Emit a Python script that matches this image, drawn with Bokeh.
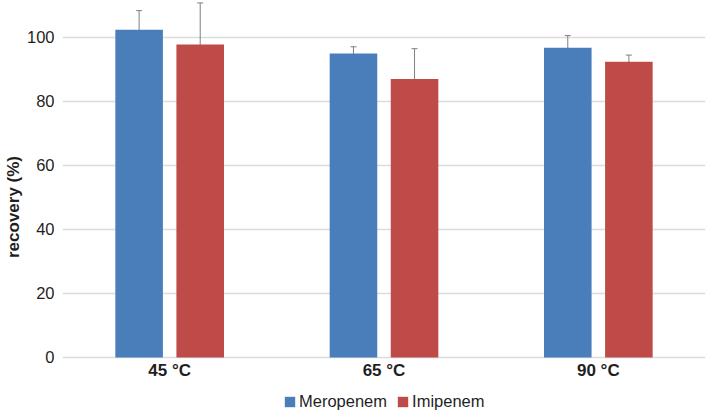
from bokeh.plotting import figure
from bokeh.models import (ColumnDataSource, Range1d, FixedTicker, Whisker, TeeHead,
                          Legend, LegendItem)
from bokeh.core.properties import value
from bokeh.transform import dodge
from bokeh.embed import file_html
from bokeh.resources import INLINE

categories = ["45 °C", "65 °C", "90 °C"]
series_names = ["Meropenem", "Imipenem"]
meropenem = [102.4, 95.0, 96.8]
meropenem_err = [6.0, 2.1, 3.8]
imipenem = [97.8, 87.0, 92.4]
imipenem_err = [13.0, 9.5, 2.1]
y_ticks = [0, 20, 40, 60, 80, 100]
y_label = "recovery (%)"

BLUE = "#4A7EBB"
RED = "#BE4B48"
FONT = "Liberation Sans"
TXT = "#1f1f1f"
GRID = "#dcdcdc"

xpos = [i + 0.5 for i in range(len(categories))]
src = ColumnDataSource(dict(
    x=xpos, cat=categories, base=[0] * len(categories),
    mero=meropenem, mero_lo=[v - e for v, e in zip(meropenem, meropenem_err)],
    mero_hi=[v + e for v, e in zip(meropenem, meropenem_err)],
    imi=imipenem, imi_lo=[v - e for v, e in zip(imipenem, imipenem_err)],
    imi_hi=[v + e for v, e in zip(imipenem, imipenem_err)],
))

p = figure(width=707, height=413, output_backend="svg", toolbar_location=None,
           x_range=Range1d(0, 3), y_range=Range1d(-17.5, 111.56),
           min_border_left=62, min_border_right=2, min_border_top=0, min_border_bottom=0)
p.outline_line_color = None
p.background_fill_color = "white"
p.border_fill_color = "white"

OFF = 0.1425
W = 0.222
r1 = p.vbar(x=dodge("x", -OFF), top="mero", width=W, source=src, fill_color=BLUE, line_color=None)
r2 = p.vbar(x=dodge("x", OFF), top="imi", width=W, source=src, fill_color=RED, line_color=None)

for off, lo, hi in [(-OFF, "mero_lo", "mero_hi"), (OFF, "imi_lo", "imi_hi")]:
    wk = Whisker(base=dodge("x", off), lower=lo, upper=hi, source=src,
                 line_color="#7f7f7f", line_width=1,
                 upper_head=TeeHead(size=6, line_color="#7f7f7f", line_width=1),
                 lower_head=TeeHead(size=6, line_color="#7f7f7f", line_width=1))
    p.add_layout(wk)

# category labels under the baseline
p.text(x="x", y="base", text="cat", source=src, text_align="center", text_baseline="top",
       y_offset=4, text_font=value(FONT), text_font_size="17px", text_font_style="bold",
       text_color=TXT)

# grid
p.xgrid.visible = False
p.ygrid.ticker = FixedTicker(ticks=y_ticks)
p.ygrid.grid_line_color = GRID
p.ygrid.grid_line_width = 1.5

# y axis
p.yaxis.ticker = FixedTicker(ticks=y_ticks)
p.yaxis.axis_line_color = None
p.yaxis.major_tick_line_color = None
p.yaxis.minor_tick_line_color = None
p.yaxis.major_tick_out = 0
p.yaxis.major_tick_in = 0
p.yaxis.major_label_standoff = 8
p.yaxis.major_label_text_font = FONT
p.yaxis.major_label_text_font_size = "16.5px"
p.yaxis.major_label_text_color = TXT
p.yaxis.axis_label = y_label
p.yaxis.axis_label_text_font = FONT
p.yaxis.axis_label_text_font_size = "17px"
p.yaxis.axis_label_text_font_style = "bold"
p.yaxis.axis_label_text_color = TXT
p.yaxis.axis_label_standoff = 1

p.xaxis.visible = False

legend = Legend(items=[LegendItem(label=series_names[0], renderers=[r1]),
                       LegendItem(label=series_names[1], renderers=[r2])],
                orientation="horizontal", location=(221, 2),
                padding=0, margin=0, spacing=9, label_standoff=3,
                glyph_width=13, glyph_height=13, label_height=20,
                border_line_color=None, background_fill_alpha=0,
                label_text_font=FONT, label_text_font_size="16.5px", label_text_color=TXT)
p.add_layout(legend, "center")

open("out.html", "w").write(file_html(p, INLINE))
